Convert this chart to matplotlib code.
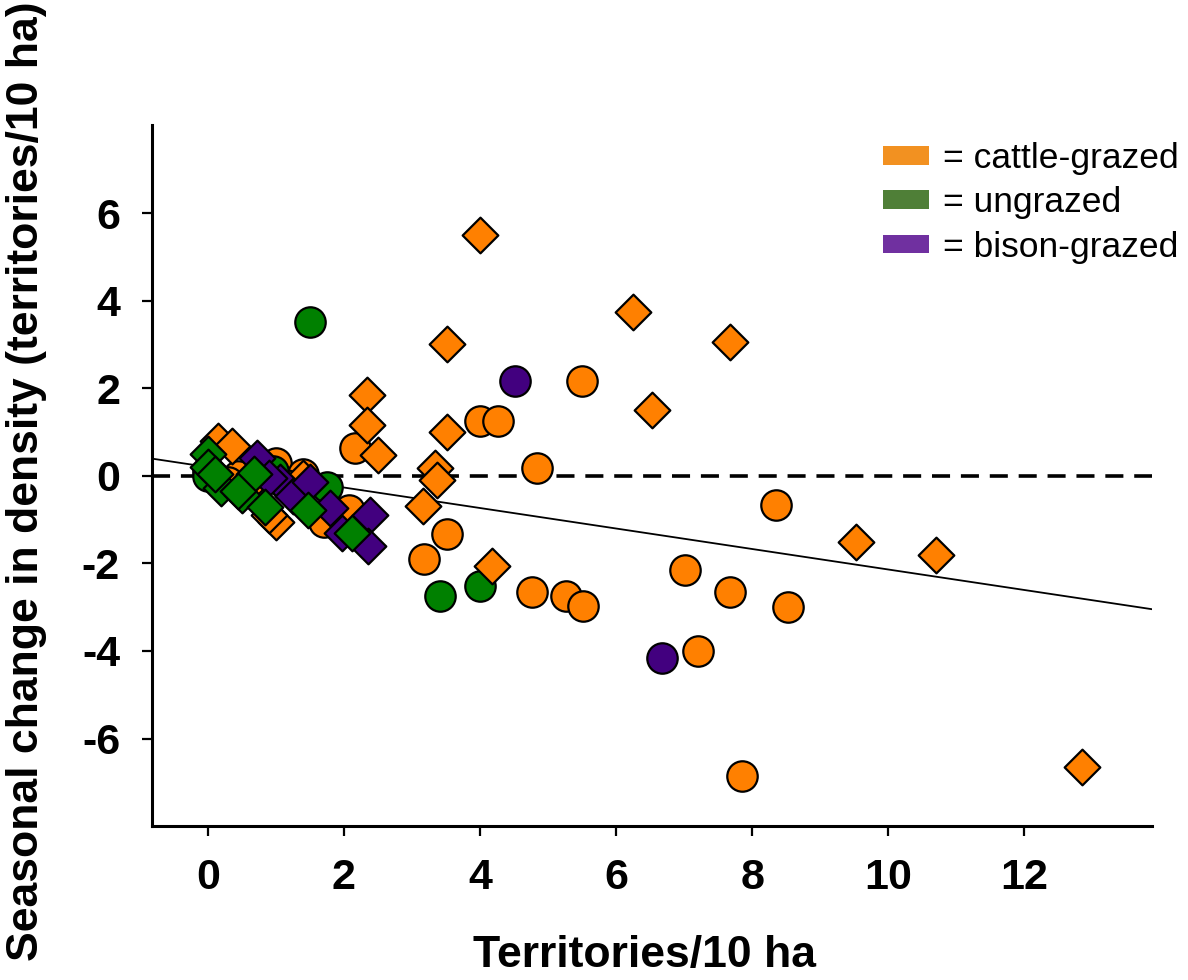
import matplotlib
matplotlib.use("Agg")
import matplotlib.pyplot as plt
from matplotlib.patches import Patch
import numpy as np

plt.rcParams['font.family'] = ['Liberation Sans', 'DejaVu Sans']
plt.rcParams['axes.unicode_minus'] = False

# cattle-grazed sites
cattle_circle_x = [5.5, 4.0, 4.26, 4.84, 2.16, 3.51, 3.18, 4.76, 5.26, 5.51, 8.35, 7.01, 7.68, 8.53, 7.2, 7.85,
                   0.0, 0.45, 1.0, 1.4, 1.7, 2.08, 1.15, 0.3]
cattle_circle_y = [2.16, 1.25, 1.25, 0.18, 0.64, -1.34, -1.89, -2.66, -2.75, -2.98, -0.66, -2.16, -2.66, -3.0, -4.0, -6.86,
                   0.1, 0.0, 0.3, 0.05, -1.05, -0.78, -0.2, -0.15]
cattle_diamond_x = [4.0, 6.25, 7.68, 3.51, 6.53, 2.34, 2.34, 2.5, 3.51, 3.34, 3.37, 3.16, 4.18, 9.53, 10.7, 12.85,
                    0.15, 0.35, 1.0, 0.9, 0.55, 1.4]
cattle_diamond_y = [5.5, 3.75, 3.05, 3.0, 1.5, 1.84, 1.16, 0.48, 1.0, 0.18, -0.09, -0.68, -2.07, -1.52, -1.82, -6.64,
                    0.8, 0.67, -1.05, -0.9, -0.3, -0.05]

# ungrazed sites
ungrazed_circle_x = [1.5, 3.41, 4.0, 0.0, 1.75, 0.95]
ungrazed_circle_y = [3.52, -2.75, -2.52, 0.0, -0.25, 0.1]
ungrazed_diamond_x = [0.0, 0.0, 0.2, 0.5, 0.68, 0.45, 0.84, 1.47, 2.12, 0.1]
ungrazed_diamond_y = [0.5, 0.2, -0.28, -0.43, 0.05, -0.35, -0.72, -0.77, -1.3, 0.05]

# bison-grazed sites
bison_circle_x = [4.51, 6.68]
bison_circle_y = [2.16, -4.16]
bison_diamond_x = [0.72, 1.06, 1.25, 1.5, 1.79, 1.97, 2.38, 2.35, 0.9]
bison_diamond_y = [0.4, -0.15, -0.47, -0.15, -0.73, -1.3, -0.89, -1.6, -0.05]

# fitted line
fit_slope = -0.234
fit_intercept = 0.20

orange = '#FF8000'
green = '#008000'
purple = '#42007F'

fig = plt.figure(figsize=(11.88, 9.8), dpi=100)
ax = fig.add_axes([0.128, 0.157, 0.842, 0.715])

xlim = (-0.82, 13.88)
ax.set_xlim(*xlim)
ax.set_ylim(-8, 8)

xs = np.array(xlim)
ax.plot(xs, fit_intercept + fit_slope * xs, color='black', lw=1.3, zorder=1)
ax.axhline(0, color='black', lw=2.6, ls=(0, (5, 3)), zorder=1)

circ = dict(marker='o', s=480, edgecolors='black', linewidths=1.6)
diam = dict(marker='D', s=330, edgecolors='black', linewidths=1.6)
ax.scatter(cattle_circle_x, cattle_circle_y, c=orange, zorder=2, **circ)
ax.scatter(bison_circle_x, bison_circle_y, c=purple, zorder=2, **circ)
ax.scatter(ungrazed_circle_x, ungrazed_circle_y, c=green, zorder=2, **circ)
ax.scatter(cattle_diamond_x, cattle_diamond_y, c=orange, zorder=3, **diam)
ax.scatter(bison_diamond_x, bison_diamond_y, c=purple, zorder=3, **diam)
ax.scatter(ungrazed_diamond_x, ungrazed_diamond_y, c=green, zorder=3, **diam)

for side in ['top', 'right']:
    ax.spines[side].set_visible(False)
for side in ['left', 'bottom']:
    ax.spines[side].set_linewidth(2.2)

ax.set_xticks([0, 2, 4, 6, 8, 10, 12])
ax.set_yticks([-6, -4, -2, 0, 2, 4, 6])
ax.tick_params(direction='out', length=7, width=1.6, labelsize=31, pad=16)
for lab in ax.get_xticklabels() + ax.get_yticklabels():
    lab.set_fontweight('bold')

ax.set_xlabel('Territories/10 ha', fontsize=32, fontweight='bold')
ax.set_ylabel('Seasonal change in density (territories/10 ha)', fontsize=32, fontweight='bold')
ax.xaxis.set_label_coords(0.492, -0.155)
ax.yaxis.set_label_coords(-0.105, 0.492)

handles = [Patch(facecolor='#F29121', edgecolor='none'),
           Patch(facecolor='#4F7F37', edgecolor='none'),
           Patch(facecolor='#7030A0', edgecolor='none')]
labels = ['= cattle-grazed', '= ungrazed', '= bison-grazed']
ax.legend(handles, labels, loc='upper left', bbox_to_anchor=(883 / 1188, 1 - 142 / 980),
          bbox_transform=fig.transFigure, frameon=False, fontsize=25.5, borderpad=0,
          borderaxespad=0, handlelength=1.3, handleheight=0.43, handletextpad=0.4,
          labelspacing=0.32)

fig.savefig('out.png', dpi=100)
